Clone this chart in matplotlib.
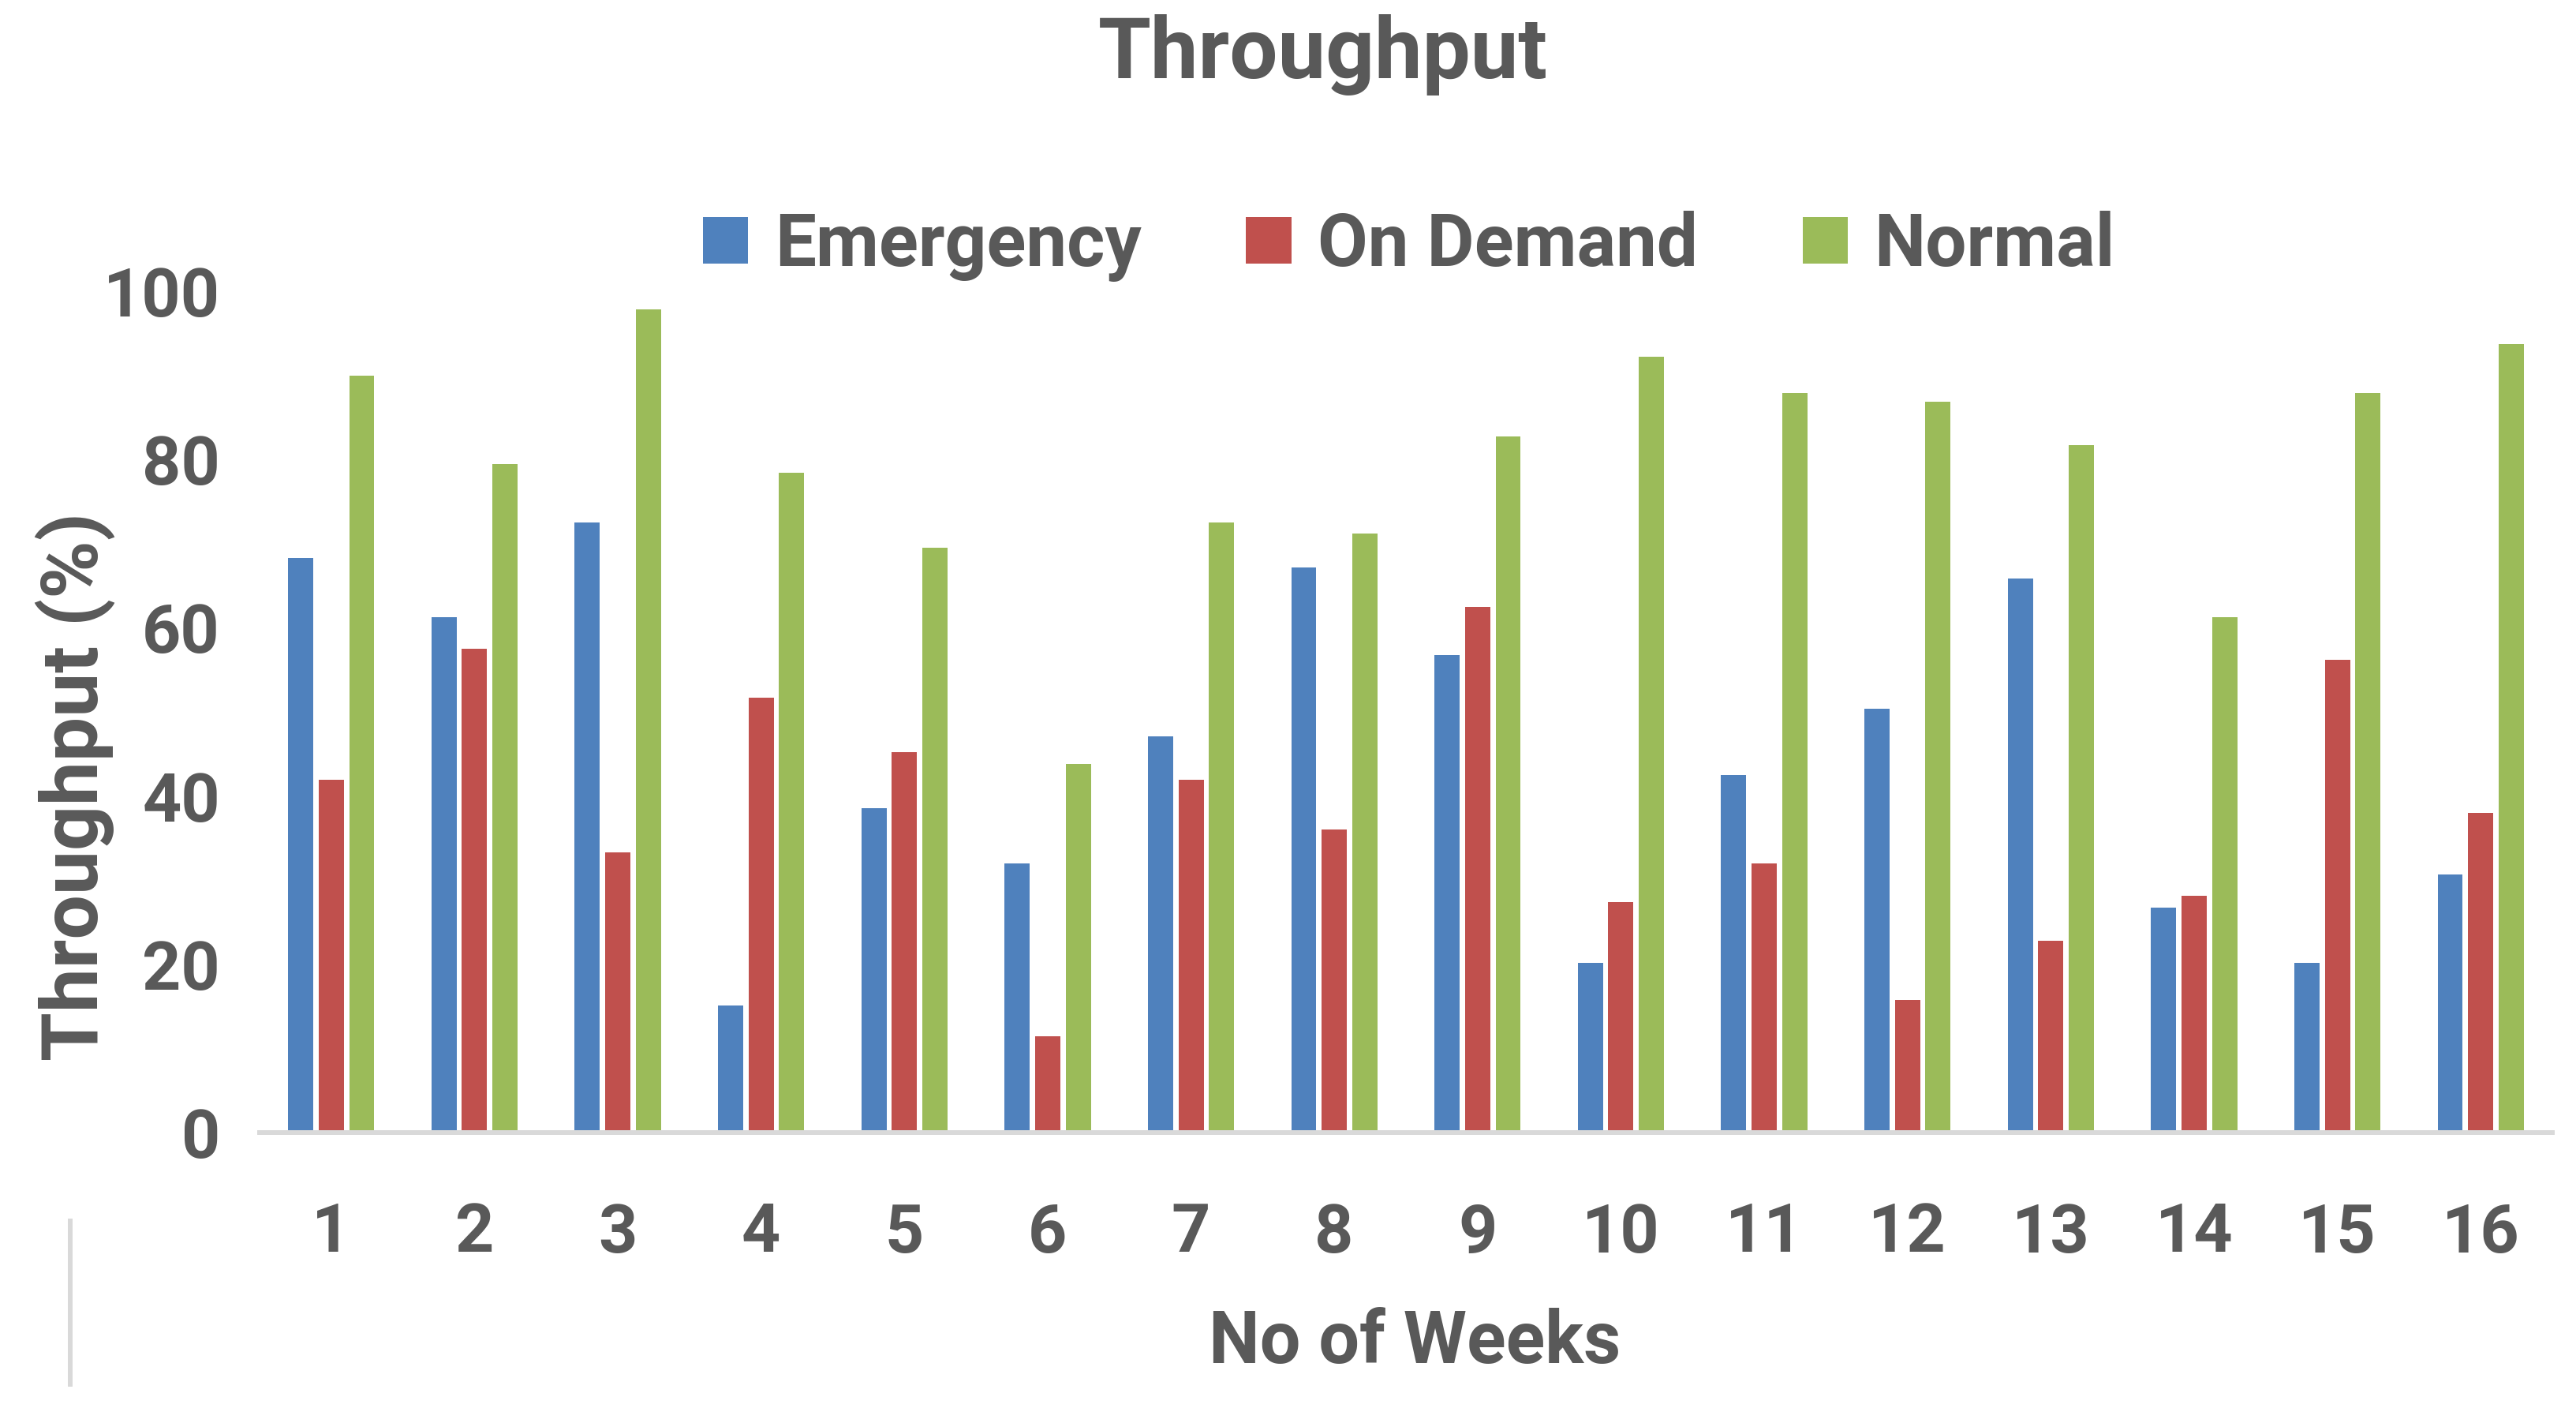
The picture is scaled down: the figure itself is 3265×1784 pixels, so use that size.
import numpy as np
import matplotlib
matplotlib.use('Agg')
import matplotlib.pyplot as plt
from matplotlib.lines import Line2D

# Dados
weeks = [str(i) for i in range(1, 17)]
emergency = [68.3, 61.3, 72.5, 15.1, 38.6, 32.0, 47.1, 67.2,
             56.8, 20.2, 42.5, 50.4, 65.9, 26.7, 20.2, 30.7]
on_demand = [41.9, 57.5, 33.3, 51.7, 45.2, 11.4, 41.9, 36.0,
             62.5, 27.4, 32.0, 15.8, 22.8, 28.1, 56.2, 38.0]
normal = [90.0, 79.5, 97.8, 78.4, 69.5, 43.8, 72.5, 71.2,
          82.7, 92.2, 87.9, 86.9, 81.7, 61.3, 87.9, 93.7]
series_names = ['Emergency', 'On Demand', 'Normal']

plt.rcParams['font.family'] = ['Roboto', 'DejaVu Sans']
plt.rcParams['font.weight'] = 'bold'
txt = '#595959'

W, H = 3266, 1784
fig = plt.figure(figsize=(W / 100, H / 100), dpi=100)
ax = fig.add_axes([329 / W, 1 - 1435 / H, 2906 / W, (1435 - 369) / H])

x = np.arange(len(weeks))
bw = 0.176
step = 0.213
b1 = ax.bar(x - step, emergency, bw, color='#4F81BD', label=series_names[0])
b2 = ax.bar(x, on_demand, bw, color='#C0504D', label=series_names[1])
b3 = ax.bar(x + step, normal, bw, color='#9BBB59', label=series_names[2])

ax.set_xlim(-0.5, 15.5)
ax.set_ylim(0, 100)
ax.set_yticks([0, 20, 40, 60, 80, 100])
ax.set_xticks(x)
ax.set_xticklabels(weeks)
ax.tick_params(axis='y', length=0, pad=36, labelsize=62, labelcolor=txt)
ax.tick_params(axis='x', length=0, pad=63, labelsize=62, labelcolor=txt)
for lab in ax.get_xticklabels() + ax.get_yticklabels():
    lab.set_fontweight('bold')

for s in ['left', 'top', 'right']:
    ax.spines[s].set_visible(False)
ax.spines['bottom'].set_color('#D9D9D9')
ax.spines['bottom'].set_linewidth(4.3)

# Titulos
fig.text(1677 / W, 1 - 99 / H, 'Throughput', ha='center', va='baseline',
         fontsize=78, fontweight='bold', color=txt)
fig.text(1793 / W, 1 - 1727 / H, 'No of Weeks', ha='center', va='baseline',
         fontsize=66, fontweight='bold', color=txt)
fig.text(124 / W, 1 - 996 / H, 'Throughput (%)', ha='center', va='baseline',
         rotation=90, rotation_mode='anchor',
         fontsize=72, fontweight='bold', color=txt)

# Legenda
fig.legend(handles=[b1, b2, b3], labels=series_names, loc='center',
           bbox_to_anchor=(1786 / W, 1 - 312 / H), ncol=3, frameon=False,
           labelcolor=txt, handlelength=0.62, handleheight=0.62,
           handletextpad=0.36, columnspacing=1.44,
           prop={'weight': 'bold', 'size': 66.5})

# linha cinza no canto inferior esquerdo
fig.add_artist(Line2D([89 / W, 89 / W], [1 - 1547 / H, 1 - 1754 / H],
                      transform=fig.transFigure, color='#D9D9D9', lw=4.3))

fig.savefig('out.png', dpi=100, facecolor='white')
